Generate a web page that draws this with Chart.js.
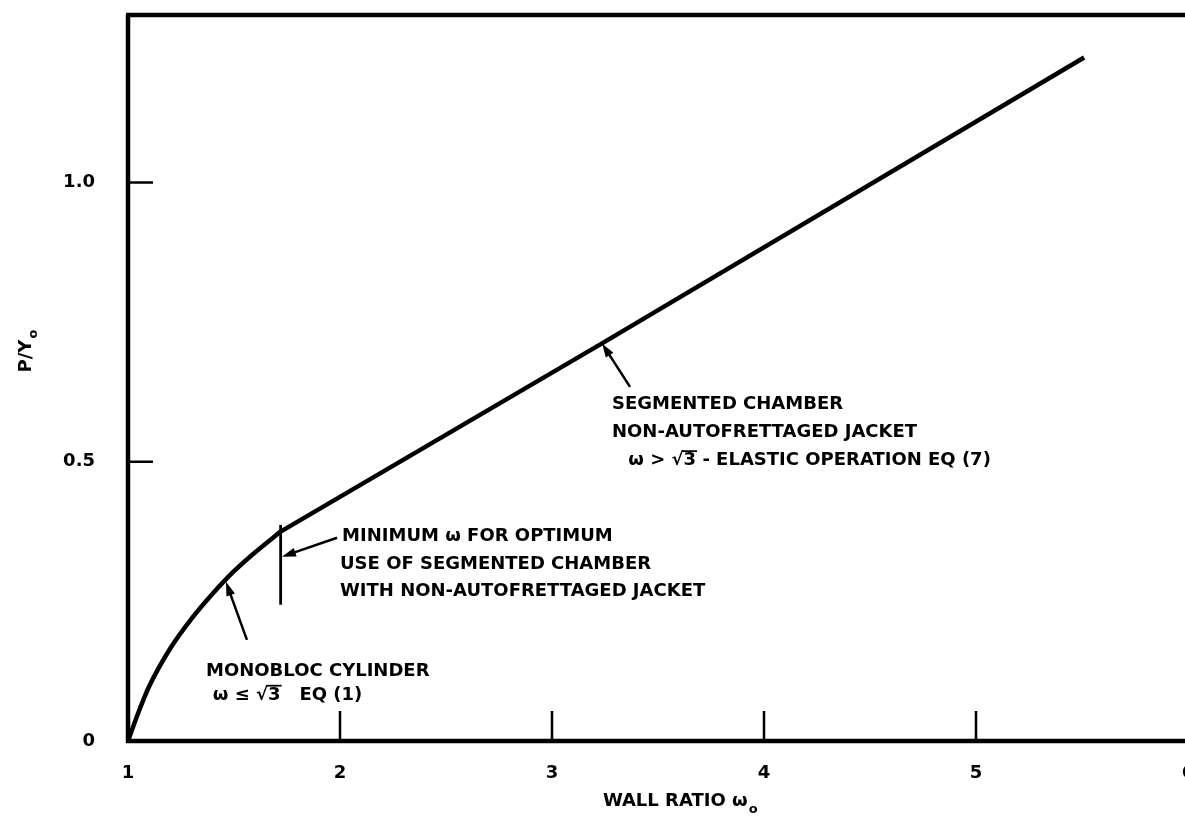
<!DOCTYPE html>
<html>
<head>
<meta charset="utf-8">
<script src="https://cdn.jsdelivr.net/npm/chart.js@4.4.1/dist/chart.umd.min.js"></script>
<style>
  html, body { margin: 0; padding: 0; background: #fff; overflow: hidden; }
  #wrap { width: 1190px; height: 817px; }
</style>
</head>
<body>
<div id="wrap"><canvas id="stats"></canvas></div>
<script>
// Monobloc cylinder, w <= sqrt(3)
const monoX = [1.00, 1.05, 1.10, 1.20, 1.30, 1.40, 1.50, 1.60, 1.72]
const monoY = [0.000, 0.052, 0.098, 0.166, 0.219, 0.264, 0.304, 0.338, 0.375]

// Segmented chamber, non-autofrettaged jacket
const segX = [1.72, 3.24, 5.51]
const segY = [0.375, 0.713, 1.224]

// Minimum w marker
const markX = [1.72, 1.72]
const markY = [0.244, 0.387]

const xTicks = [1, 2, 3, 4, 5, 6]
const yTicks = [0, 0.5, 1.0]

const FONT = '"DejaVu Sans", sans-serif'

function pts(xs, ys) {
    return xs.map((v, i) => ({ x: v, y: ys[i] }))
}

// Notes and arrows, placed in data units
const notes = [
    { x: 3.283, y: 0.602, text: "SEGMENTED CHAMBER" },
    { x: 3.283, y: 0.552, text: "NON-AUTOFRETTAGED JACKET" },
    { x: 3.36, y: 0.502, text: "ω > √3 - ELASTIC OPERATION EQ (7)" },
    { x: 2.01, y: 0.366, text: "MINIMUM ω FOR OPTIMUM" },
    { x: 2.0, y: 0.317, text: "USE OF SEGMENTED CHAMBER" },
    { x: 2.0, y: 0.268, text: "WITH NON-AUTOFRETTAGED JACKET" },
    { x: 1.368, y: 0.124, text: "MONOBLOC CYLINDER" },
    { x: 1.40, y: 0.082, text: "ω ≤ √3   EQ (1)" }
]
const arrows = [
    { from: [3.368, 0.634], to: [3.236, 0.712] },
    { from: [1.986, 0.364], to: [1.726, 0.330] },
    { from: [1.561, 0.181], to: [1.462, 0.285] }
]

const frame = {
    id: 'frame',
    afterDraw(chart) {
        const ctx = chart.ctx
        const a = chart.chartArea
        const x = chart.scales.x
        const y = chart.scales.y
        ctx.save()
        ctx.strokeStyle = '#000'
        ctx.fillStyle = '#000'

        // box
        ctx.lineWidth = 4.5
        ctx.beginPath()
        ctx.moveTo(a.left - 2, a.top)
        ctx.lineTo(chart.width, a.top)
        ctx.moveTo(a.left, a.top)
        ctx.lineTo(a.left, a.bottom + 2)
        ctx.moveTo(a.left - 2, a.bottom)
        ctx.lineTo(chart.width, a.bottom)
        ctx.stroke()

        // inside ticks
        ctx.lineWidth = 2.5
        ctx.beginPath()
        xTicks.forEach(v => {
            if (v === xTicks[0]) return
            const px = x.getPixelForValue(v)
            ctx.moveTo(px, a.bottom)
            ctx.lineTo(px, a.bottom - 30)
        })
        yTicks.forEach(v => {
            if (v === 0) return
            const py = y.getPixelForValue(v)
            ctx.moveTo(a.left, py)
            ctx.lineTo(a.left + 25, py)
        })
        ctx.stroke()

        // arrows
        ctx.lineWidth = 2.5
        arrows.forEach(ar => {
            const x0 = x.getPixelForValue(ar.from[0]), y0 = y.getPixelForValue(ar.from[1])
            const x1 = x.getPixelForValue(ar.to[0]), y1 = y.getPixelForValue(ar.to[1])
            const ang = Math.atan2(y1 - y0, x1 - x0)
            ctx.beginPath()
            ctx.moveTo(x0, y0)
            ctx.lineTo(x1 - 8 * Math.cos(ang), y1 - 8 * Math.sin(ang))
            ctx.stroke()
            ctx.beginPath()
            ctx.moveTo(x1, y1)
            ctx.lineTo(x1 - 14 * Math.cos(ang) + 4.5 * Math.sin(ang), y1 - 14 * Math.sin(ang) - 4.5 * Math.cos(ang))
            ctx.lineTo(x1 - 14 * Math.cos(ang) - 4.5 * Math.sin(ang), y1 - 14 * Math.sin(ang) + 4.5 * Math.cos(ang))
            ctx.closePath()
            ctx.fill()
        })

        // notes
        ctx.font = 'bold 18px ' + FONT
        ctx.textBaseline = 'middle'
        ctx.textAlign = 'left'
        ctx.lineWidth = 1.8
        notes.forEach(n => {
            const px = x.getPixelForValue(n.x), py = y.getPixelForValue(n.y)
            ctx.fillText(n.text, px, py)
            const k = n.text.indexOf('√3')
            if (k >= 0) {
                const w0 = ctx.measureText(n.text.slice(0, k + 1)).width
                const w1 = ctx.measureText('3').width
                ctx.beginPath()
                ctx.moveTo(px + w0 - 1, py - 9.5)
                ctx.lineTo(px + w0 + w1 + 1, py - 9.5)
                ctx.stroke()
            }
        })

        // axis titles with subscript o
        ctx.textBaseline = 'alphabetic'
        ctx.font = 'bold 18px ' + FONT
        const tx = x.getPixelForValue(3.24)
        const main = 'WALL RATIO ω'
        ctx.fillText(main, tx, 806)
        const mw = ctx.measureText(main).width
        ctx.font = 'bold 13px ' + FONT
        ctx.fillText('o', tx + mw + 1, 813)

        ctx.translate(31, y.getPixelForValue(0.66))
        ctx.rotate(-Math.PI / 2)
        ctx.font = 'bold 18px ' + FONT
        ctx.fillText('P/Y', 0, 0)
        const pw = ctx.measureText('P/Y').width
        ctx.font = 'bold 13px ' + FONT
        ctx.fillText('o', pw + 1, 6)
        ctx.restore()
    }
}

const line = {
    borderColor: '#000',
    pointRadius: 0,
    showLine: true,
    fill: false
}

new Chart(
    document.getElementById("stats"),
    {
        type: 'scatter',
        data: {
            datasets: [
                Object.assign({ label: 'Monobloc', data: pts(monoX, monoY), borderWidth: 4.5, cubicInterpolationMode: 'monotone' }, line),
                Object.assign({ label: 'Segmented', data: pts(segX, segY), borderWidth: 4.5 }, line),
                Object.assign({ label: 'Minimum', data: pts(markX, markY), borderWidth: 2.8 }, line)
            ]
        },
        options: {
            responsive: true,
            maintainAspectRatio: false,
            animation: false,
            layout: { padding: { top: 15, right: 2, left: 0, bottom: 0 } },
            plugins: {
                legend: { display: false },
                tooltip: { enabled: false }
            },
            scales: {
                x: {
                    type: 'linear',
                    min: 1,
                    max: 6,
                    grid: { display: false, drawTicks: false },
                    border: { display: false },
                    ticks: {
                        stepSize: 1,
                        padding: 22,
                        color: '#000',
                        font: { family: FONT, size: 18, weight: 'bold' }
                    },
                    afterFit: s => { s.height = 76; s.paddingLeft = 0; s.paddingRight = 0 }
                },
                y: {
                    type: 'linear',
                    min: 0,
                    max: 1.3,
                    grid: { display: false, drawTicks: false },
                    border: { display: false },
                    ticks: {
                        stepSize: 0.5,
                        includeBounds: false,
                        padding: 33,
                        color: '#000',
                        font: { family: FONT, size: 18, weight: 'bold' },
                        callback: v => v === 0 ? '0' : v.toFixed(1)
                    },
                    afterFit: s => { s.width = 128; s.paddingTop = 0; s.paddingBottom = 0 }
                }
            }
        },
        plugins: [frame]
    }
);
</script>
</body>
</html>
